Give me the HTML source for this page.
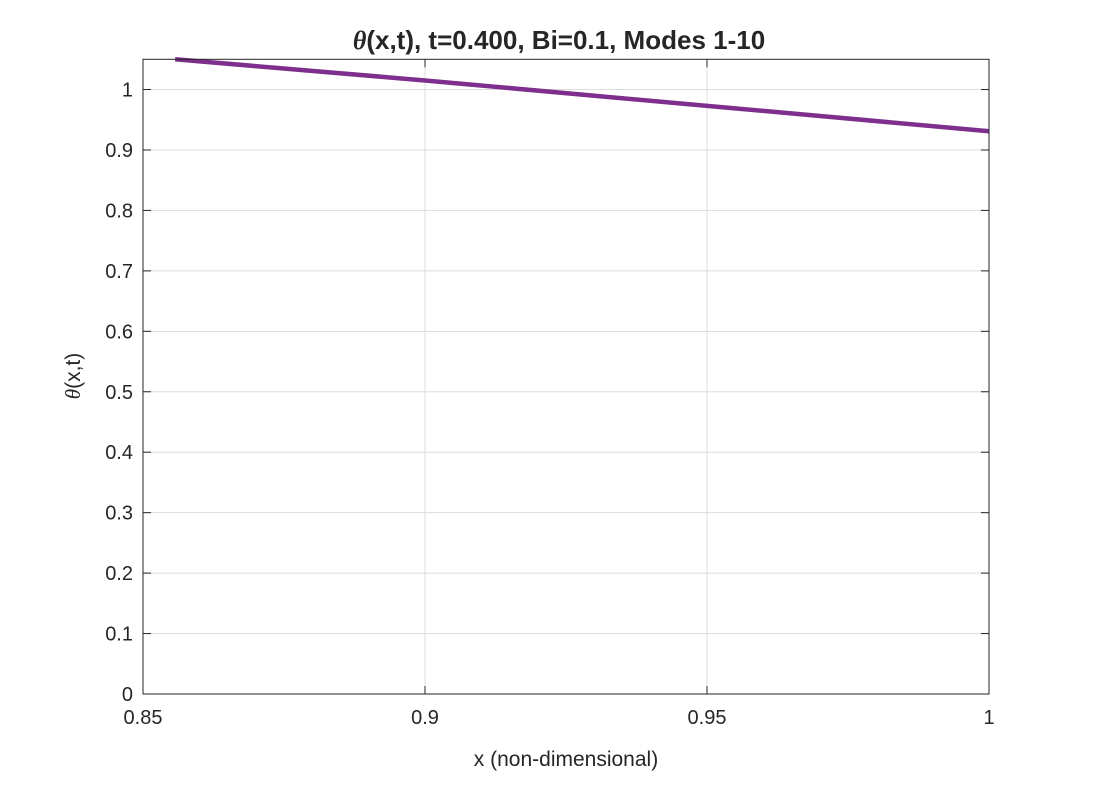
<!DOCTYPE html>
<html><head><meta charset="utf-8"><style>
body{margin:0;background:#fff;}
svg text{font-family:"Liberation Sans",Arial,sans-serif;fill:#262626;}
</style></head><body>
<svg id="chart" width="1094" height="781" xmlns="http://www.w3.org/2000/svg">
<rect width="1094" height="781" fill="#fff"/>
<g id="grid"></g>
<g id="ticks"></g>
<g id="series"></g>
<rect x="143" y="59.3" width="846" height="634.7" fill="none" stroke="#262626" stroke-width="1"/>
<text x="559" y="49" text-anchor="middle" font-size="26" font-weight="bold" fill="#000"><tspan font-family="Liberation Serif" font-style="italic">θ</tspan>(x,t), t=0.400, Bi=0.1, Modes 1-10</text>
<text x="566" y="766" text-anchor="middle" font-size="21">x (non-dimensional)</text>
<text transform="translate(80,376) rotate(-90)" text-anchor="middle" font-size="21"><tspan font-family="Liberation Serif" font-style="italic">θ</tspan>(x,t)</text>
</svg>
<script>
const xTicks=[0.85,0.9,0.95,1];
const xTickLabels=["0.85","0.9","0.95","1"];
const yTicks=[0,0.1,0.2,0.3,0.4,0.5,0.6,0.7,0.8,0.9,1];
const yTickLabels=["0","0.1","0.2","0.3","0.4","0.5","0.6","0.7","0.8","0.9","1"];
const xVals=[0.8557,0.9,0.95,1];
const yVals=[1.05,1.015,0.973,0.931];
const X0=143,X1=989,Y0=694,YT=59.3;
const xMin=0.85,xMax=1,yMin=0,yMax=1.05;
function sx(v){return X0+(v-xMin)/(xMax-xMin)*(X1-X0);}
function sy(v){return Y0-(v-yMin)/(yMax-yMin)*(Y0-YT);}
const NS="http://www.w3.org/2000/svg";
const grid=document.getElementById('grid'),ticks=document.getElementById('ticks'),series=document.getElementById('series');
function mk(tag,attrs,parent){const e=document.createElementNS(NS,tag);for(const k in attrs)e.setAttribute(k,attrs[k]);parent.appendChild(e);return e;}
xTicks.forEach((v,i)=>{const x=sx(v);
 const g=mk('line',{x1:x,x2:x,y1:YT,y2:Y0,stroke:'#dcdcdc','stroke-width':1},grid);
 
 
 mk('line',{x1:x,x2:x,y1:Y0,y2:Y0-8,stroke:'#262626'},ticks);
 mk('line',{x1:x,x2:x,y1:YT,y2:YT+8,stroke:'#262626'},ticks);
 const t=mk('text',{x:x,y:Y0+30,'text-anchor':'middle','font-size':20},ticks);t.textContent=xTickLabels[i];
 
 
});
yTicks.forEach((v,i)=>{const y=sy(v);
 const g=mk('line',{x1:X0,x2:X1,y1:y,y2:y,stroke:'#dcdcdc','stroke-width':1},grid);
 
 
 mk('line',{x1:X0,x2:X0+8,y1:y,y2:y,stroke:'#262626'},ticks);
 mk('line',{x1:X1,x2:X1-8,y1:y,y2:y,stroke:'#262626'},ticks);
 const t=mk('text',{x:X0-10,y:y+7,'text-anchor':'end','font-size':20},ticks);t.textContent=yTickLabels[i];
 
 
});
const pts=xVals.map((v,i)=>sx(v)+','+sy(yVals[i])).join(' ');
const pl=mk('polyline',{points:pts,fill:'none',stroke:'#7e2f8e','stroke-width':4.5},series);


</script>
</body></html>
